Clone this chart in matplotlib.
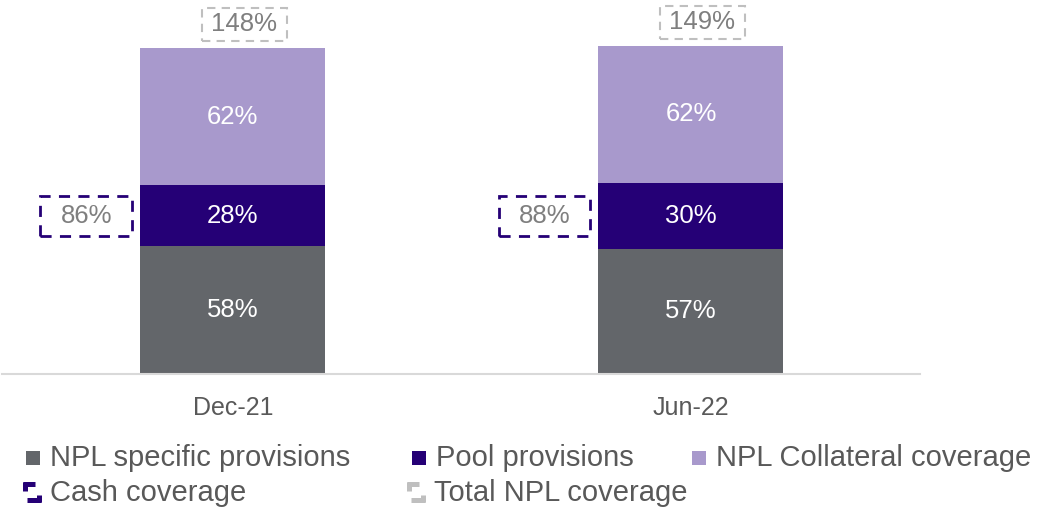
import matplotlib.pyplot as plt
from matplotlib.patches import Rectangle
from matplotlib.lines import Line2D

plt.rcParams['font.family'] = ['Liberation Sans', 'DejaVu Sans']

periods = ['Dec-21', 'Jun-22']
specific = [58, 57]
pool = [28, 30]
collateral = [62, 62]
cash_cov = [86, 88]
total_cov = [148, 149]

GREY = '#63666A'
DARK = '#250076'
LIGHT = '#A899CC'
TXT = '#7F7F7F'
BOX_GREY = '#BFBFBF'

fig = plt.figure(figsize=(10.6, 5.12), dpi=100)
ax = fig.add_axes([2 / 1060, 138 / 512, 918 / 1060, 352 / 512])

x = list(range(len(periods)))
w = 0.404
lower = [a + b for a, b in zip(specific, pool)]

ax.bar(x, specific, w, color=GREY)
ax.bar(x, pool, w, bottom=specific, color=DARK)
ax.bar(x, collateral, w, bottom=lower, color=LIGHT)

cash_w, cash_h = 0.2, 18.2
tot_w, tot_h = 0.186, 15

for i in x:
    ax.text(i, specific[i] / 2, f'{specific[i]}%', ha='center', va='center',
            color='white', fontsize=18.5)
    ax.text(i, specific[i] + pool[i] / 2, f'{pool[i]}%', ha='center', va='center',
            color='white', fontsize=18.5)
    ax.text(i, lower[i] + collateral[i] / 2, f'{collateral[i]}%', ha='center',
            va='center', color='white', fontsize=18.5)

    # cash coverage box, left of the pool segment
    cx, cy = i - 0.32, specific[i] + pool[i] / 2
    ax.add_patch(Rectangle((cx - cash_w / 2, cy - cash_h / 2), cash_w, cash_h,
                           fc='none', ec=DARK, lw=2, ls=(0, (4, 3))))
    ax.text(cx, cy, f'{cash_cov[i]}%', ha='center', va='center', color=TXT,
            fontsize=18.5)

    # total coverage box above the bar, nudged a little right
    tx, ty = i + 0.025, total_cov[i] + 11
    ax.add_patch(Rectangle((tx - tot_w / 2, ty - tot_h / 2), tot_w, tot_h,
                           fc='none', ec=BOX_GREY, lw=1.5, ls=(0, (4, 3)),
                           clip_on=False))
    ax.text(tx, ty, f'{total_cov[i]}%', ha='center', va='center', color=TXT,
            fontsize=18.5, clip_on=False)

ax.set_xlim(-0.504, 1.5)
ax.set_ylim(0, 160)
ax.set_xticks(x)
ax.set_xticklabels(periods, fontsize=18, color='#595959')
ax.tick_params(axis='x', length=0, pad=16)
ax.set_yticks([])
for s in ['top', 'right', 'left']:
    ax.spines[s].set_visible(False)
ax.spines['bottom'].set_color('#D9D9D9')
ax.spines['bottom'].set_linewidth(1.5)


# legend drawn by hand in figure pixels
def px(xp, yp):
    return xp / 1060, 1 - yp / 512


def bracket_icon(xp, yp, col):
    segs = [((xp - 3, yp - 9), (xp + 9, yp - 9)),
            ((xp - 1, yp - 11), (xp - 1, yp - 2)),
            ((xp + 1, yp + 7), (xp + 15, yp + 7)),
            ((xp + 13, yp + 2), (xp + 13, yp + 9))]
    for (a, b) in segs:
        (x0, y0), (x1, y1) = px(*a), px(*b)
        fig.lines.append(Line2D([x0, x1], [y0, y1], color=col, lw=3.6,
                                solid_capstyle='butt', transform=fig.transFigure))


legend_rows = [
    [('NPL specific provisions', GREY, 26, 458, 'solid'),
     ('Pool provisions', DARK, 412, 458, 'solid'),
     ('NPL Collateral coverage', LIGHT, 692, 458, 'solid')],
    [('Cash coverage', DARK, 26, 493, 'dash'),
     ('Total NPL coverage', BOX_GREY, 410, 493, 'dash')],
]
for row in legend_rows:
    for label, col, xp, yp, kind in row:
        if kind == 'solid':
            x0, y0 = px(xp, yp + 7)
            fig.patches.append(Rectangle((x0, y0), 14 / 1060, 14 / 512, fc=col,
                                         ec='none', transform=fig.transFigure))
        else:
            bracket_icon(xp, yp, col)
        lx, ly = px(xp + 24, yp)
        fig.text(lx, ly, label, ha='left', va='center', fontsize=21, color='#595959')

fig.savefig('out.png', dpi=100)
